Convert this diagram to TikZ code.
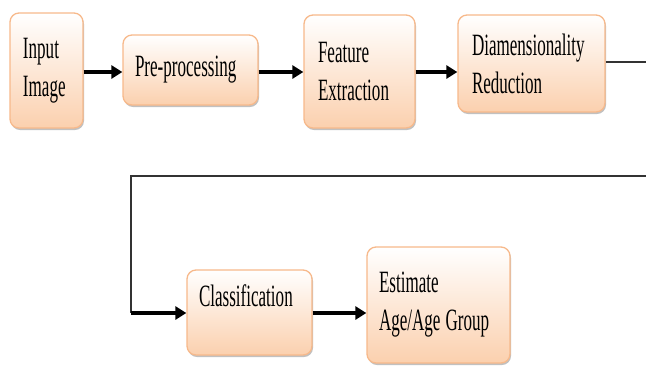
\documentclass[tikz,border=0pt]{standalone}
\usepackage{fontspec}
\setmainfont{Liberation Serif}[FakeStretch=0.55]
\usetikzlibrary{arrows.meta,shadows}
\definecolor{boxline}{HTML}{F7B98B}
\definecolor{boxfill}{HTML}{FBD0AE}
\tikzset{
  block/.style={draw=boxline, line width=1.3pt, rounded corners=9pt,
    top color=white, bottom color=boxfill, align=left, inner sep=0pt,
    font=\fontsize{31}{38}\selectfont,
    execute at begin node={\spaceskip=5pt\relax},
    drop shadow={shadow xshift=1pt, shadow yshift=-2pt, opacity=0.35, fill=black!70}},
  arr/.style={line width=3.4pt, -{Triangle[length=11pt,width=13pt]}},
  wire/.style={line width=1.3pt, draw=black!80}
}
\begin{document}
\begin{tikzpicture}[x=1pt,y=-1pt]
    \useasboundingbox (0,0) rectangle (646,365);
    \node [block, minimum width=73pt, minimum height=115pt, text width=47pt] (input) at (46.5,70.5) {Input\\Image};
    \node [block, minimum width=135pt, minimum height=70pt, text width=111pt] (pre) at (190.5,70) {Pre-processing};
    \node [block, minimum width=111pt, minimum height=113pt, text width=83pt] (feat) at (359.5,71.5) {Feature\\Extraction};
    \node [block, minimum width=147pt, minimum height=97pt, text width=119pt] (dim) at (531.5,63.5) {Diamensionality\\Reduction};
    \node [block, minimum width=125pt, minimum height=85pt, text width=101pt, text depth=33pt] (class) at (249.5,312.5) {Classification};
    \node [block, minimum width=143pt, minimum height=116pt, text width=119pt] (est) at (438.5,305) {Estimate\\Age/Age Group};
    % feedback line leaves the picture on the right
    \coordinate (outA) at (646,62);
    \coordinate (outB) at (646,176);
    \coordinate (bend) at (131,176);
    \draw [arr] (input.east |- 0,72) -- (pre.west |- 0,72);
    \draw [arr] (pre.east |- 0,72) -- (feat.west |- 0,72);
    \draw [arr] (feat.east |- 0,72) -- (dim.west |- 0,72);
    \draw [wire] (dim.east |- outA) -- (outA);
    \draw [wire] (outB) -- (bend) -- (bend |- 0,313);
    \draw [arr] (bend |- 0,313) -- (class.west |- 0,313);
    \draw [arr] (class.east |- 0,313) -- (est.west |- 0,313);
\end{tikzpicture}
\end{document}
